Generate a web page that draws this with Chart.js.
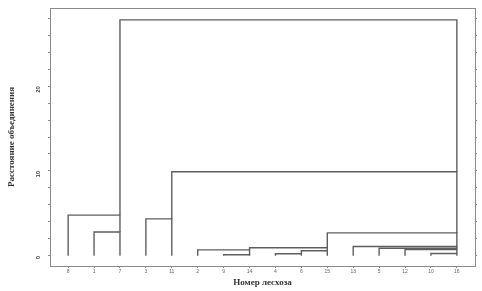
<!DOCTYPE html>
<html>
<head>
<meta charset="utf-8">
<script src="https://cdn.jsdelivr.net/npm/chart.js@4.4.1/dist/chart.umd.min.js"></script>
<style>
html,body{margin:0;padding:0;background:#fff;}
canvas{display:block;}
</style>
</head>
<body>
<canvas id="c" width="482" height="291"></canvas>
<script>
// Leaf labels in dendrogram order (x positions 1..16)
const leafLabels = ['8','1','7','3','11','2','9','14','4','6','15','13','5','12','10','16'];
// Merges: left node position, right node position, linkage distance
const mergeLeft   = [7,    9,    15,   10,  6,   14,   13,  8,    12,  11,  2,   4,    1,   5,   3];
const mergeRight  = [8,    10,   16,   11,  8,   16,   16,  11,   16,  16,  3,   5,    3,   16,  16];
const mergeHeight = [0.12, 0.24, 0.28, 0.6, 0.7, 0.75, 0.9, 0.95, 1.1, 2.7, 2.8, 4.35, 4.8, 9.9, 27.8];
// Y tick values
const yMajorTicks = [0, 10, 20];
const yMinorTicks = [0, 2, 4, 6, 8, 10, 12, 14, 16, 18, 20, 22, 24, 26, 28];
const xTitle = 'Номер лесхоза';
const yTitle = 'Расстояние объединения';

const nodeHeight = {};
leafLabels.forEach((_, i) => nodeHeight[i + 1] = 0);
const datasets = mergeLeft.map((L, k) => {
  const R = mergeRight[k], h = mergeHeight[k];
  const pts = [{x: L, y: nodeHeight[L]}, {x: L, y: h}, {x: R, y: h}, {x: R, y: nodeHeight[R]}];
  nodeHeight[R] = h;
  return {data: pts, showLine: true, borderColor: '#5e5e5e', borderWidth: 1.4, pointRadius: 0, fill: false, tension: 0};
});

const frame = '#8a8a8a';
const YMIN = -1.2, YMAX = 29.2, XMIN = 0.3, XMAX = 16.7;
const noPad = s => { s.paddingTop = 0; s.paddingBottom = 0; s.paddingLeft = 0; s.paddingRight = 0; };

new Chart(document.getElementById('c'), {
  type: 'scatter',
  data: {datasets},
  options: {
    responsive: false,
    animation: false,
    events: [],
    layout: {padding: 0},
    plugins: {legend: {display: false}, tooltip: {enabled: false}},
    scales: {
      x: {
        type: 'linear', position: 'bottom', min: XMIN, max: XMAX,
        afterBuildTicks: s => { s.ticks = leafLabels.map((_, i) => ({value: i + 1})); },
        afterFit: s => { s.height = 25; noPad(s); },
        ticks: {callback: v => leafLabels[v - 1], font: {family: 'Liberation Sans', size: 5}, color: '#666', padding: 1, maxRotation: 0, minRotation: 0, autoSkip: false},
        grid: {display: true, drawOnChartArea: false, drawTicks: true, tickLength: 2, color: frame},
        border: {display: true, color: frame, width: 1},
        title: {display: true, text: xTitle, font: {family: 'Liberation Serif', size: 9, weight: 'bold'}, color: '#333', padding: {top: 0, bottom: 3}}
      },
      xTop: {
        type: 'linear', position: 'top', min: XMIN, max: XMAX,
        afterFit: s => { s.height = 8; noPad(s); },
        ticks: {display: false},
        grid: {display: false},
        border: {display: true, color: frame, width: 1}
      },
      y: {
        type: 'linear', position: 'left', min: YMIN, max: YMAX,
        afterBuildTicks: s => { s.ticks = yMinorTicks.map(v => ({value: v})); },
        afterFit: s => { s.width = 50; noPad(s); },
        ticks: {callback: v => yMajorTicks.includes(v) ? String(v) : '', font: {family: 'Liberation Sans', size: 6, weight: 'bold'}, color: '#444', padding: 10, minRotation: 90, maxRotation: 90, autoSkip: false},
        grid: {display: true, drawOnChartArea: false, drawTicks: true, tickLength: 2, color: frame},
        border: {display: true, color: frame, width: 1},
        title: {display: true, text: yTitle, font: {family: 'Liberation Serif', size: 9, weight: 'bold'}, color: '#333', padding: {top: 6, bottom: 0}}
      },
      yRight: {
        type: 'linear', position: 'right', min: YMIN, max: YMAX,
        afterBuildTicks: s => { s.ticks = yMinorTicks.map(v => ({value: v})); },
        afterFit: s => { s.width = 7; noPad(s); },
        ticks: {display: false},
        grid: {display: true, drawOnChartArea: false, drawTicks: true, tickLength: 2, color: frame},
        border: {display: true, color: frame, width: 1}
      }
    }
  }
});
</script>
</body>
</html>
